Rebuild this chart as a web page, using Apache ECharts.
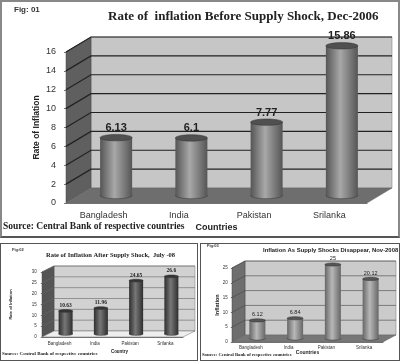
<!DOCTYPE html>
<html>
<head>
<meta charset="utf-8">
<title>Inflation charts</title>
<script src="https://cdn.jsdelivr.net/npm/echarts@6/dist/echarts.min.js"></script>
<style>
    html, body { margin: 0; background: #fff; }
    #wrap { position: relative; width: 400px; height: 361px; overflow: hidden; }
    .fig { position: absolute; box-sizing: border-box; border: 1px solid #555; }
    #fig1 { left: 0; top: 0; width: 400px; height: 238px; border: 2px solid #888; border-bottom-color: #555; filter: blur(0.35px); }
    #fig2 { left: 0; top: 243px; width: 198px; height: 118px; filter: blur(0.5px); }
    #fig3 { left: 200px; top: 243px; width: 200px; height: 118px; filter: blur(0.5px); }
</style>
</head>
<body>
<div id="wrap">
    <div id="fig1" class="fig"></div>
    <div id="fig2" class="fig"></div>
    <div id="fig3" class="fig"></div>
</div>
<script>
let countries = ['Bangladesh', 'India', 'Pakistan', 'Srilanka'];

let fig1Values = [6.13, 6.1, 7.77, 15.86];
let fig1Ticks = [0, 2, 4, 6, 8, 10, 12, 14, 16];

let fig2Values = [10.63, 11.96, 24.65, 26.6];
let fig2Ticks = [0, 5, 10, 15, 20, 25, 30];

let fig3Values = [6.12, 6.84, 25, 20.12];
let fig3Ticks = [0, 5, 10, 15, 20, 25];

let sansFont = '"Liberation Sans", Arial, sans-serif';
let serifFont = '"Liberation Serif", "Times New Roman", serif';

let build = cfg => {
    let { values, ticks, depth, barW, s } = cfg;
    let dx = depth[0], dy = depth[1];

    // walls and floor, from the grid rect
    let renderWalls = (params, api) => {
        let r = params.coordSys;
        let x0 = r.x, x1 = r.x + r.width, y0 = r.y, y1 = r.y + r.height;
        return {
            type: 'group',
            children: [
                { type: 'polygon', shape: { points: [[x0 + dx, y0 + dy], [x1 + dx, y0 + dy], [x1 + dx, y1 + dy], [x0 + dx, y1 + dy]] }, style: { fill: cfg.backColor, stroke: '#777', lineWidth: 0.5 } },
                { type: 'polygon', shape: { points: [[x0, y0], [x0 + dx, y0 + dy], [x0 + dx, y1 + dy], [x0, y1]] }, style: { fill: cfg.sideColor, stroke: '#444', lineWidth: 0.5 } },
                { type: 'polygon', shape: { points: [[x0, y1], [x1, y1], [x1 + dx, y1 + dy], [x0 + dx, y1 + dy]] }, style: { fill: cfg.floorColor, stroke: '#666', lineWidth: 0.5 } }
            ]
        };
    };

    // one grid line per tick, across the side wall and the back wall
    let renderLines = (params, api) => {
        let r = params.coordSys;
        let y = api.coord([0, api.value(0)])[1];
        return {
            type: 'polyline',
            shape: { points: [[r.x, y], [r.x + dx, y + dy], [r.x + r.width + dx, y + dy]] },
            style: { fill: 'none', stroke: cfg.lineColor, lineWidth: cfg.lineWidth }
        };
    };

    let renderBar = (params, api) => {
        let top = api.coord([api.value(0), api.value(1)]);
        let base = api.coord([api.value(0), 0]);
        let cx = top[0] + dx / 2, yTop = top[1] + dy / 2, yBase = base[1] + dy / 2;
        let rx = barW / 2, ry = barW * 0.1;
        let body = new echarts.graphic.LinearGradient(0, 0, 1, 0, [
            { offset: 0, color: cfg.barDark },
            { offset: 0.45, color: cfg.barLight },
            { offset: 1, color: cfg.barDark }
        ]);
        return {
            type: 'group',
            children: [
                { type: 'ellipse', shape: { cx: cx, cy: yBase, rx: rx, ry: ry }, style: { fill: body, stroke: '#333', lineWidth: 0.5 } },
                { type: 'rect', shape: { x: cx - rx, y: yTop, width: barW, height: yBase - yTop }, style: { fill: body } },
                { type: 'ellipse', shape: { cx: cx, cy: yTop, rx: rx, ry: ry }, style: { fill: cfg.barTop, stroke: '#333', lineWidth: 0.5 } },
                {
                    type: 'text',
                    style: {
                        x: cx, y: yTop - ry + cfg.valueLift,
                        text: String(api.value(1)),
                        align: 'center', verticalAlign: 'bottom',
                        font: cfg.valueFont, fill: '#222'
                    }
                }
            ]
        };
    };

    return {
        animation: false,
        backgroundColor: '#fff',
        title: [
            { text: cfg.fig, left: cfg.figPos[0], top: cfg.figPos[1], padding: 0, textStyle: { fontFamily: sansFont, fontSize: cfg.figSize, fontWeight: 'bold', color: '#333' } },
            { text: cfg.title, left: cfg.titlePos[0], top: cfg.titlePos[1], padding: 0, textStyle: { fontFamily: cfg.titleFont, fontSize: cfg.titleSize, fontWeight: 'bold', color: '#222' } },
            { text: 'Source: Central Bank of respective countries', left: cfg.sourcePos[0], top: cfg.sourcePos[1], padding: 0, textStyle: { fontFamily: serifFont, fontSize: cfg.sourceSize, fontWeight: 'bold', color: '#222' } }
        ],
        grid: { left: cfg.grid[0], top: cfg.grid[1], width: cfg.grid[2], height: cfg.grid[3], outerBoundsMode: 'none' },
        xAxis: {
            type: 'category',
            data: countries,
            name: cfg.xName,
            nameLocation: 'middle',
            nameGap: cfg.xNameGap,
            nameMoveOverlap: false,
            nameTextStyle: { fontFamily: sansFont, fontSize: cfg.xNameSize, fontWeight: 'bold', color: '#222', padding: [0, 0, 0, cfg.xNameShift] },
            axisLine: { lineStyle: { color: '#777' } },
            axisTick: { length: s * 3, lineStyle: { color: '#777' } },
            axisLabel: { fontFamily: sansFont, fontSize: cfg.labelSize, color: '#333', margin: cfg.labelMargin, interval: 0 }
        },
        yAxis: {
            type: 'value',
            min: 0,
            max: ticks[ticks.length - 1],
            interval: ticks[1] - ticks[0],
            name: cfg.yName,
            nameLocation: 'middle',
            nameGap: cfg.yNameGap,
            nameMoveOverlap: false,
            nameTextStyle: { fontFamily: sansFont, fontSize: cfg.yNameSize, fontWeight: 'bold', color: '#222' },
            splitLine: { show: false },
            axisLine: { show: true, lineStyle: { color: '#777' } },
            axisTick: { show: true, length: s * 2, lineStyle: { color: '#777' } },
            axisLabel: { fontFamily: sansFont, fontSize: cfg.labelSize, color: '#333', margin: cfg.labelMargin + s * 2 }
        },
        series: [
            { type: 'custom', z: 1, silent: true, data: [[0]], renderItem: renderWalls },
            { type: 'custom', z: 2, silent: true, data: ticks.slice(1).map(t => [t]), encode: { y: 0 }, renderItem: renderLines },
            { type: 'custom', z: 3, data: values.map((v, i) => [i, v]), encode: { x: 0, y: 1 }, renderItem: renderBar }
        ]
    };
};

let figs = [
    {
        id: 'fig1', values: fig1Values, ticks: fig1Ticks, depth: [25, -15], barW: 32, s: 1,
        grid: [64, 50, 301, 151],
        backColor: '#c6c6c6', sideColor: '#5f5f5f', floorColor: '#6e6e6e', lineColor: '#222', lineWidth: 1.2,
        barDark: '#555', barLight: '#a8a8a8', barTop: '#505050',
        valueFont: 'bold 11px ' + sansFont, valueLift: -1,
        fig: 'Fig: 01', figPos: [12, 4], figSize: 8,
        title: 'Rate of  inflation Before Supply Shock, Dec-2006', titlePos: [106, 8], titleSize: 13, titleFont: serifFont,
        sourcePos: [1, 220], sourceSize: 9.5,
        xName: 'Countries', xNameGap: 20, xNameSize: 9, xNameShift: 0, yName: 'Rate of Inflation', yNameGap: 25, yNameSize: 8.5,
        labelSize: 9, labelMargin: 8
    },
    {
        id: 'fig2', values: fig2Values, ticks: fig2Ticks, depth: [12, -6], barW: 14, s: 0.6,
        grid: [41, 28, 141, 65],
        backColor: '#d2d2d2', sideColor: '#555', floorColor: '#eee', lineColor: '#666', lineWidth: 0.6,
        barDark: '#2e2e2e', barLight: '#777', barTop: '#333',
        valueFont: 'bold 5.5px ' + serifFont, valueLift: -1,
        fig: 'Fig:02', figPos: [11, 4], figSize: 4,
        title: 'Rate of Inflation After Supply Shock,  July -08', titlePos: [45, 8], titleSize: 6.5, titleFont: serifFont,
        sourcePos: [1, 107], sourceSize: 5,
        xName: 'Country', xNameGap: 12, xNameSize: 4.5, xNameShift: 14, yName: 'Rate of Inflation', yNameGap: 29, yNameSize: 4,
        labelSize: 4.5, labelMargin: 4
    },
    {
        id: 'fig3', values: fig3Values, ticks: fig3Ticks, depth: [13, -7], barW: 16, s: 0.6,
        grid: [31, 24, 151, 74],
        backColor: '#cbcbcb', sideColor: '#6e6e6e', floorColor: '#777', lineColor: '#444', lineWidth: 0.6,
        barDark: '#666', barLight: '#b8b8b8', barTop: '#555',
        valueFont: '5.5px ' + sansFont, valueLift: -1,
        fig: 'Fig:03', figPos: [6, 0], figSize: 4,
        title: 'Inflation As Supply Shocks Disappear, Nov-2008', titlePos: [62, 3], titleSize: 5.9, titleFont: sansFont,
        sourcePos: [1, 108], sourceSize: 4.7,
        xName: 'Countries', xNameGap: 8, xNameSize: 5, xNameShift: 0, yName: 'Inflation', yNameGap: 12, yNameSize: 5.5,
        labelSize: 4.5, labelMargin: 3
    }
];

figs.forEach(cfg => {
    let myChart = echarts.init(document.getElementById(cfg.id));
    myChart.setOption(build(cfg));
});
</script>
</body>
</html>
